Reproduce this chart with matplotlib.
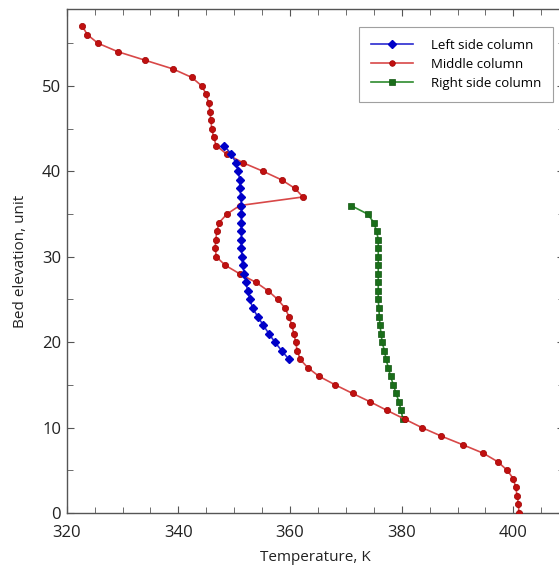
import matplotlib
matplotlib.use("Agg")
import matplotlib.pyplot as plt
from matplotlib.ticker import MultipleLocator

# Left side column (blue diamonds), elevation 18..43
left_h = list(range(18, 44))
left_T = [359.8, 358.5, 357.3, 356.2, 355.2, 354.2, 353.3, 352.8, 352.4, 352.1,
          351.8, 351.5, 351.4, 351.3, 351.3, 351.3, 351.3, 351.3, 351.3, 351.2,
          351.0, 351.0, 350.7, 350.3, 349.5, 348.2]

# Middle column (red circles), elevation 0..57
mid_h = list(range(0, 58))
mid_T = [401.0, 400.9, 400.7, 400.4, 400.0, 398.9, 397.2, 394.6, 390.9, 387.1,
         383.6, 380.5, 377.4, 374.4, 371.2, 368.1, 365.2, 363.2, 361.8, 361.3,
         361.0, 360.7, 360.3, 359.8, 359.1, 357.8, 356.1, 353.9, 351.0, 348.4,
         346.8, 346.6, 346.7, 346.9, 347.3, 348.7, 351.0, 362.3, 360.9, 358.5,
         355.2, 351.6, 348.7, 346.8, 346.3, 346.0, 345.8, 345.7, 345.4, 345.0,
         344.2, 342.4, 339.0, 334.1, 329.2, 325.6, 323.7, 322.8]

# Right side column (green squares), elevation 11..36
right_h = list(range(11, 37))
right_T = [380.2, 379.9, 379.5, 379.0, 378.5, 378.0, 377.6, 377.2, 376.9, 376.5,
           376.3, 376.1, 376.0, 375.9, 375.8, 375.8, 375.8, 375.8, 375.8, 375.8,
           375.8, 375.8, 375.5, 375.0, 373.9, 370.9]

x_ticks = [320, 340, 360, 380, 400]
y_ticks = [0, 10, 20, 30, 40, 50]

plt.rcParams['font.family'] = ['Open Sans', 'DejaVu Sans']

fig = plt.figure(figsize=(5.59, 5.71), dpi=100)
ax = fig.add_axes([0.1193, 0.1016, 0.889, 0.8825])

ax.plot(left_T, left_h, color='#2a2ad0', lw=1.2, marker='D', ms=4.3,
        mfc='#0000c8', mec='#0000c8', label='Left side column', zorder=4)
ax.plot(mid_T, mid_h, color='#d84848', lw=1.2, marker='o', ms=4.5,
        mfc='#c01010', mec='#a00000', mew=0.5, label='Middle column', zorder=3)
ax.plot(right_T, right_h, color='#2e8b2e', lw=1.2, marker='s', ms=4.2,
        mfc='#1a6e1a', mec='#115511', mew=0.5, label='Right side column', zorder=2)

ax.set_xlim(320, 409)
ax.set_ylim(0, 59)
ax.set_xticks(x_ticks)
ax.set_yticks(y_ticks)
ax.xaxis.set_minor_locator(MultipleLocator(5))
ax.yaxis.set_minor_locator(MultipleLocator(5))
ax.tick_params(which='both', direction='in', top=True, right=True,
               colors='#555555', labelcolor='#222222', labelsize=12)
ax.tick_params(which='major', length=5)
ax.tick_params(which='minor', length=4)
ax.tick_params(axis='x', which='major', pad=9)
ax.tick_params(axis='y', which='major', pad=4)
for s in ax.spines.values():
    s.set_color('#555555')
    s.set_linewidth(1.0)

ax.set_xlabel('Temperature, K', fontsize=11, color='#222222', labelpad=6)
ax.set_ylabel('Bed elevation, unit', fontsize=11, color='#222222', labelpad=10)

leg = ax.legend(loc='upper right', bbox_to_anchor=(0.9787, 0.9645),
                borderaxespad=0, fontsize=9.5,
                frameon=True, fancybox=False, edgecolor='#888888',
                markerscale=0.9, handlelength=3.2, handletextpad=1.35,
                borderpad=0.9, labelspacing=0.45)
leg.get_frame().set_linewidth(0.8)

fig.savefig('out.png', dpi=100)
